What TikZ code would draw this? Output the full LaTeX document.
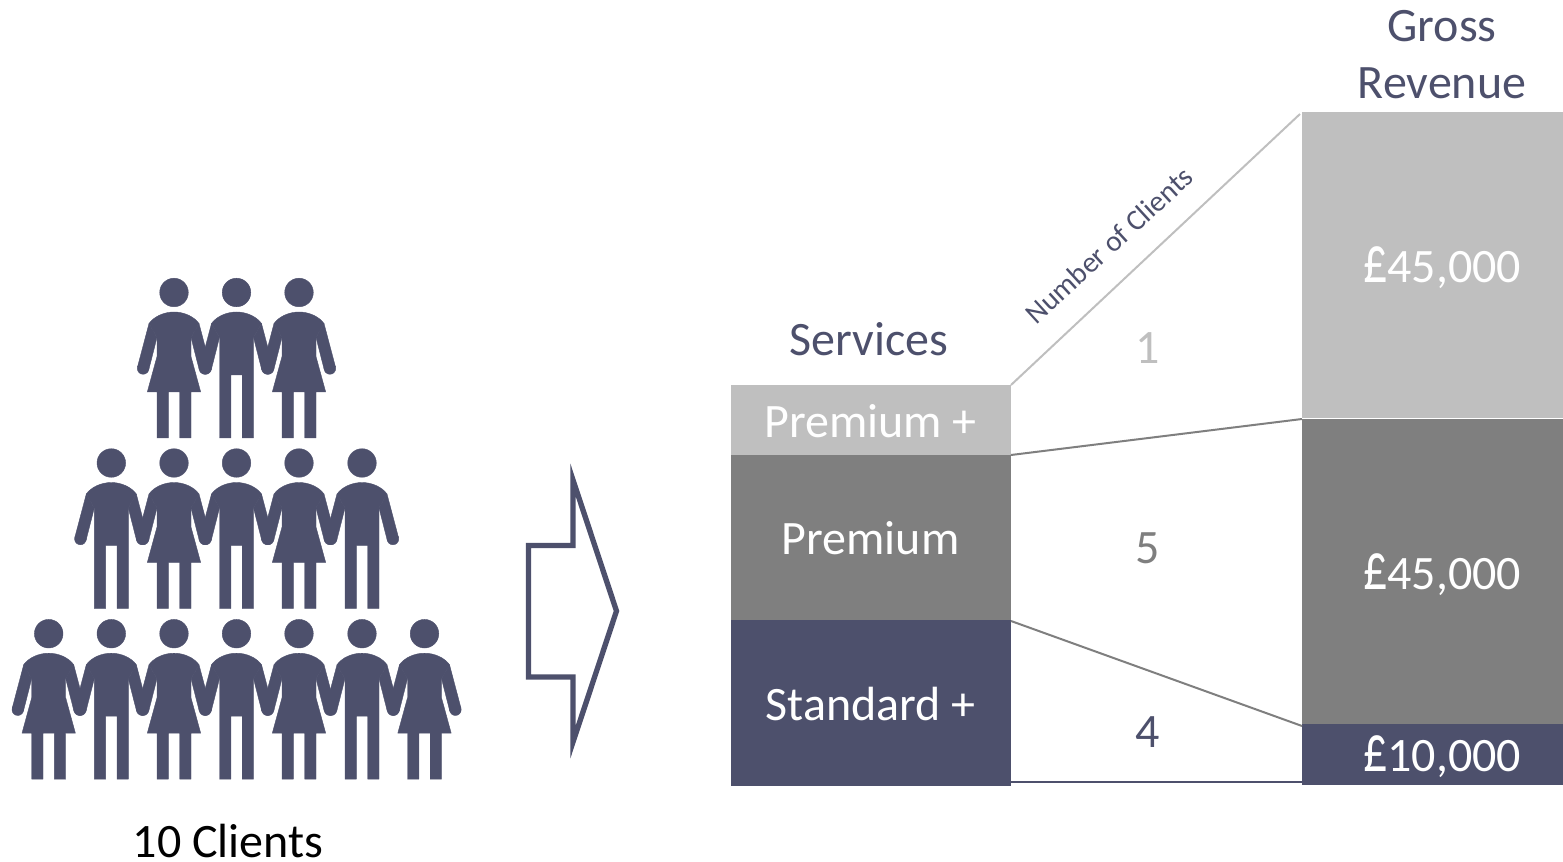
\documentclass[tikz,border=0pt]{standalone}
\usepackage{graphicx}
\usepackage{fontspec}
\setmainfont{Carlito}[Numbers=Lining]
\newcommand{\tallpound}{\scalebox{1}[1.4]{£}}
\definecolor{navy}{HTML}{4D506C}
\definecolor{lgray}{HTML}{BFBFBF}
\definecolor{mgray}{HTML}{7F7F7F}
\tikzset{
  x=0.75pt,y=-0.75pt,
  band/.style={draw=none,fill=#1,inner sep=0pt,outer sep=0pt,anchor=north west},
  lbl/.style={inner sep=0pt,anchor=base,font=\fontsize{36}{40}\selectfont,text=#1},
  link/.style={draw=#1,line width=1.5pt},
  solidfig/.style={fill=navy,draw=navy,line width=0.3pt,line join=round},
  figure arms/.pic={
    \path[solidfig] (0,0) circle[radius=14.3];
    \path[solidfig] (30.9,76) circle[radius=5.8] (-30.9,76) circle[radius=5.8];
    \path[solidfig] (25,31) -- (36.5,74.5) -- (25.3,77.5) -- (17,45) -- cycle;
    \path[solidfig] (-25,31) -- (-36.5,74.5) -- (-25.3,77.5) -- (-17,45) -- cycle;
  },
  woman/.pic={
    \pic {figure arms};
    \path[solidfig]
      (0,19.5) .. controls (10,19.5) and (20,24) .. (25,31)
      -- (17,45) -- (17,64) -- (26.7,99.5) -- (17,99.5) -- (17,145.5) -- (5.7,145.5) -- (5.7,99.5)
      -- (-5.7,99.5) -- (-5.7,145.5) -- (-17,145.5) -- (-17,99.5) -- (-26.7,99.5) -- (-17,64) -- (-17,45)
      -- (-25,31) .. controls (-20,24) and (-10,19.5) .. (0,19.5) -- cycle;
  },
  man/.pic={
    \pic {figure arms};
    \path[solidfig]
      (0,19.5) .. controls (10,19.5) and (20,24) .. (25,31)
      -- (17,45) -- (17,145.5) -- (5.7,145.5) -- (5.7,82.5) -- (-5.7,82.5) -- (-5.7,145.5) -- (-17,145.5) -- (-17,45)
      -- (-25,31) .. controls (-20,24) and (-10,19.5) .. (0,19.5) -- cycle;
  }
}
\begin{document}
\begin{tikzpicture}
\useasboundingbox (0,0) rectangle (1563,862);
% row 1
\pic at (174,292.5) {woman};
\pic at (236.5,292.5) {man};
\pic at (299,292.5) {woman};
% row 2
\pic at (111.3,463) {man};
\pic at (174,463) {woman};
\pic at (236.5,463) {man};
\pic at (299,463) {woman};
\pic at (362,463) {man};
% row 3
\pic at (48.7,633.7) {woman};
\pic at (111.3,633.7) {man};
\pic at (174,633.7) {woman};
\pic at (236.5,633.7) {man};
\pic at (299,633.7) {woman};
\pic at (362,633.7) {man};
\pic at (424.5,633.7) {woman};
\node[lbl=black] (clients) at (228,857) {10 Clients};
% arrow
\draw[navy,line width=4pt,miter limit=12]
  (528.5,545.5) -- (573,545.5) -- (573,480) -- (616.5,611) -- (573,742) -- (573,677) -- (528.5,677) -- cycle;
% left stack
\node[band=lgray,minimum width=210pt,minimum height=52.5pt] (pp) at (731,385) {};
\node[band=mgray,minimum width=210pt,minimum height=123.75pt] (p) at (731,455) {};
\node[band=navy,minimum width=210pt,minimum height=124.5pt] (sp) at (731,620) {};
% right stack
\node[band=lgray,minimum width=195.75pt,minimum height=229.5pt] (r1) at (1302,112) {};
\node[band=mgray,minimum width=195.75pt,minimum height=228.75pt] (r2) at (1302,419) {};
\node[band=navy,minimum width=195.75pt,minimum height=45.75pt] (r3) at (1302,724) {};
% band labels
\node[lbl=white] (tpp) at (870.5,438) {Premium +};
\node[lbl=white] (tp) at (870.5,554) {Premium};
\node[lbl=white] (tsp) at (870.5,720) {Standard +};
\node[lbl=white] (tr1) at (1442,283) {\tallpound 45,000};
\node[lbl=white] (tr2) at (1442,589) {\tallpound 45,000};
\node[lbl=white] (tr3) at (1442,771) {\tallpound 10,000};
% connectors
\coordinate (a1) at (1300,114);
\coordinate (b2) at (1011,621);
\coordinate (c2) at (1302,726);
\coordinate (d1) at (1011,782);
\coordinate (d2) at (1302,782);
\draw[link=lgray] (pp.north east) -- (a1);
\draw[link=mgray] (p.north east) -- (r2.north west);
\draw[link=mgray] (b2) -- (c2);
\draw[link=navy] (d1) -- (d2);
% labels
\node[lbl=navy] (serv) at (869,356) {Services};
\node[lbl=navy] (gross) at (1442,42) {Gross};
\node[lbl=navy] (rev) at (1442,99) {Revenue};
\node[lbl=lgray] (n1) at (1148,364) {1};
\node[lbl=mgray] (n5) at (1148,563) {5};
\node[lbl=navy] (n4) at (1148,747) {4};
\node[inner sep=0pt,text=navy,rotate=42.5,font=\fontsize{22}{24}\selectfont] (noc) at (1109,245) {Number of Clients};
\end{tikzpicture}
\end{document}
